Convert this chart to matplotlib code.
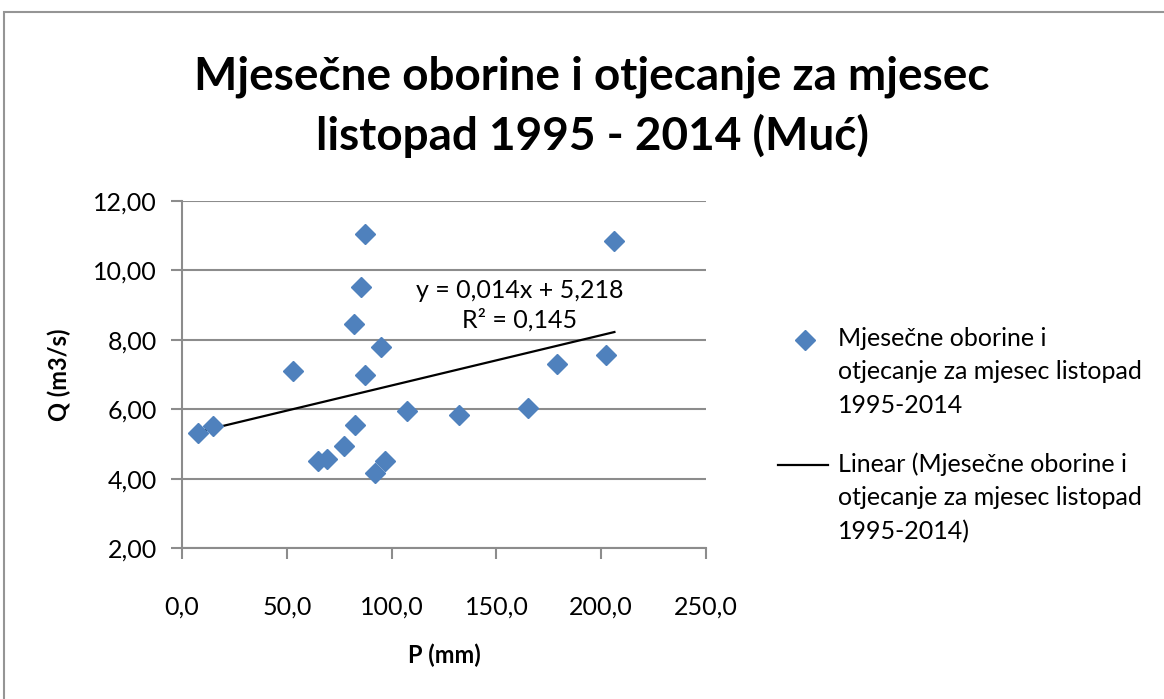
import numpy as np
import matplotlib.pyplot as plt
from matplotlib.patches import Rectangle
from matplotlib.lines import Line2D

# data
P_mm = [7.5, 14.9, 53.1, 87.3, 85.2, 82.2, 94.9, 87.5, 107.5, 82.4,
        77.3, 65.0, 69.0, 92.1, 96.9, 206.3, 178.8, 202.3, 165.2, 132.2]
Q_m3s = [5.32, 5.52, 7.10, 11.04, 9.52, 8.45, 7.80, 6.98, 5.95, 5.54,
         4.94, 4.51, 4.57, 4.17, 4.51, 10.86, 7.29, 7.56, 6.03, 5.83]
x_ticks = [0, 50, 100, 150, 200, 250]
y_ticks = [2, 4, 6, 8, 10, 12]

series_label = "Mjesečne oborine i\notjecanje za mjesec listopad\n1995-2014"
trend_label = "Linear (Mjesečne oborine i\notjecanje za mjesec listopad\n1995-2014)"
eq_text = "y = 0,014x + 5,218\nR² = 0,145"

plt.rcParams['font.family'] = ['Lato', 'DejaVu Sans']

W, H = 1164, 699
fig = plt.figure(figsize=(W / 100, H / 100), dpi=100)
ax = fig.add_axes([182 / W, 1 - 548 / H, 524 / W, 347 / H])


def fx(px):
    return px / W


def fy(py):
    return 1 - py / H


grey = "#8c8c8c"
blue = "#4f81bd"

# outer chart border
fig.patches.append(Rectangle((fx(4), -0.2), 1.2, 1.2 - 12 / H,
                             transform=fig.transFigure, fill=False,
                             edgecolor="#959595", linewidth=1.5))

ax.plot(P_mm, Q_m3s, linestyle="none", marker="D", markersize=10,
        color=blue, zorder=3)

k, b = np.polyfit(P_mm, Q_m3s, 1)
xs = np.array([min(P_mm), max(P_mm)])
ax.plot(xs, k * xs + b, color="black", linewidth=1.6, zorder=2)

ax.text(161, 9.0, eq_text, ha="center", va="center", fontsize=18,
        linespacing=1.3)

ax.set_xlim(0, 250)
ax.set_ylim(2, 12)
ax.set_xticks(x_ticks)
ax.set_yticks(y_ticks)
ax.set_xticklabels([f"{v:.1f}".replace(".", ",") for v in x_ticks])
ax.set_yticklabels([f"{v:.2f}".replace(".", ",") for v in y_ticks])
ax.tick_params(labelsize=18, color=grey, length=8, width=1.5, pad=10)
ax.tick_params(axis="x", pad=26)

ax.grid(axis="y", color=grey, linewidth=1.5)
ax.set_axisbelow(True)
for side in ["top", "right"]:
    ax.spines[side].set_visible(False)
for side in ["left", "bottom"]:
    ax.spines[side].set_color(grey)
    ax.spines[side].set_linewidth(1.5)

ax.set_xlabel("P (mm)", fontsize=17, fontweight="bold", labelpad=18)
ax.set_ylabel("Q (m3/s)", fontsize=17, fontweight="bold", labelpad=16)

fig.text(fx(592), fy(77), "Mjesečne oborine i otjecanje za mjesec",
         ha="center", va="center", fontsize=33, fontweight="bold")
fig.text(fx(592), fy(136), "listopad 1995 - 2014 (Muć)",
         ha="center", va="center", fontsize=33, fontweight="bold")

# legend, handles lined up with the first text line as in the reference
fig.lines.append(Line2D([fx(805)], [fy(340)], transform=fig.transFigure,
                        linestyle="none", marker="D", markersize=10, color=blue))
fig.lines.append(Line2D([fx(778), fx(828)], [fy(465), fy(465)],
                        transform=fig.transFigure, color="black", linewidth=1.6))
fig.text(fx(838), fy(327), series_label, ha="left", va="top", fontsize=18,
         linespacing=1.55)
fig.text(fx(838), fy(452), trend_label, ha="left", va="top", fontsize=18,
         linespacing=1.55)

fig.savefig("out.png", dpi=100)
